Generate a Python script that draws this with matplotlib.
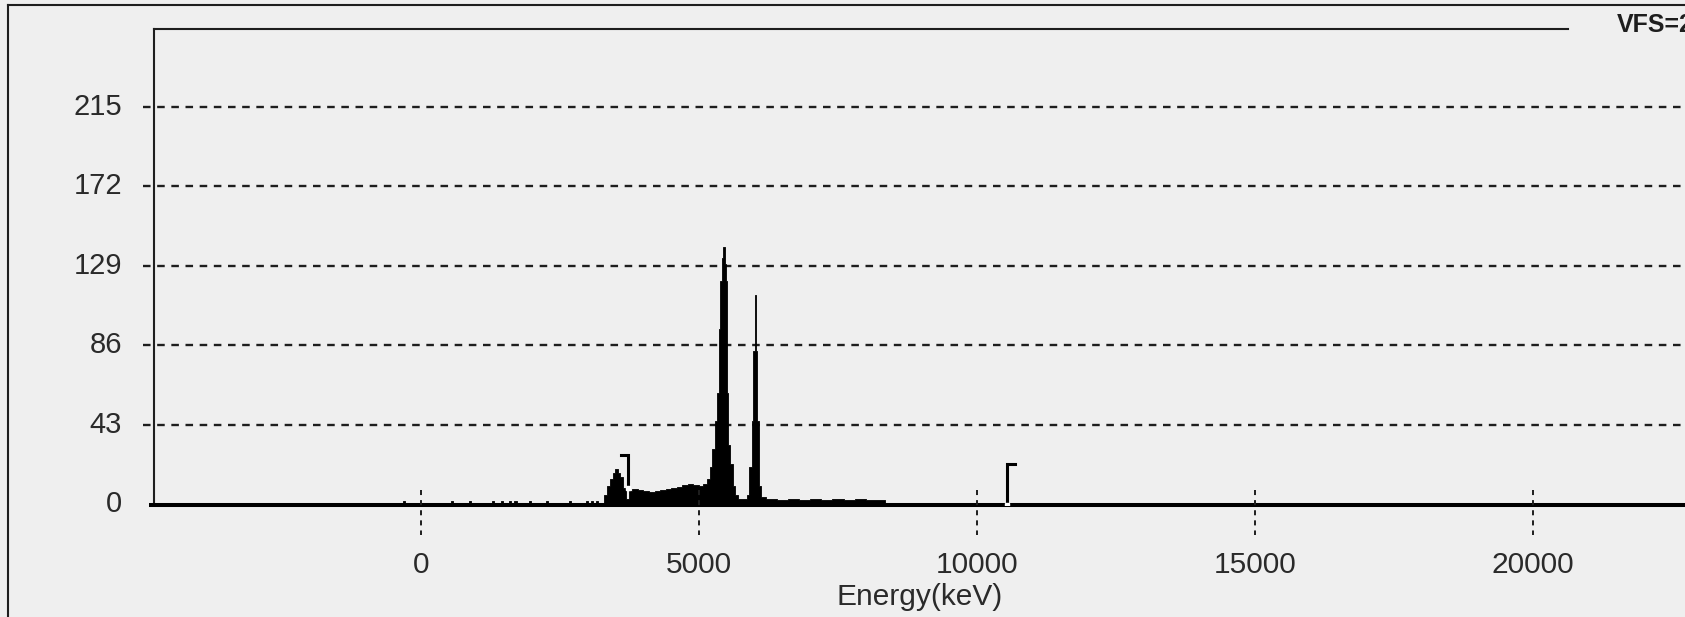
import matplotlib.pyplot as plt
from matplotlib.lines import Line2D

plt.rcParams["font.family"] = ["Liberation Sans", "DejaVu Sans"]

# spectrum (channel start energy in keV, counts), drawn as steps
energy_kev = [-420, -330, -290, 540, 580, 860, 900, 1280, 1320, 1440, 1480,
              1580, 1620, 1680, 1720, 1940, 1980, 2250, 2290, 2660, 2700,
              2960, 3000, 3060, 3100, 3150, 3190, 3300,
              3350, 3400, 3450, 3490, 3540, 3580, 3630, 3690, 3750,
              3800, 3900, 4000, 4100, 4200, 4300, 4400, 4500, 4600, 4700, 4800,
              4900, 5000, 5080, 5140, 5190, 5230, 5280, 5320, 5360, 5380, 5410,
              5430, 5460, 5480, 5500, 5525, 5560, 5610, 5650, 5700, 5800,
              5870, 5900, 5950, 5980, 6000, 6020, 6045, 6085, 6110,
              6200, 6400, 6600, 6800, 7000, 7200, 7400, 7600, 7800, 8000,
              8200, 8350]
counts = [0, 1.8, 0, 1.8, 0, 1.8, 0, 1.8, 0, 1.8, 0,
          1.8, 0, 1.8, 0, 1.8, 0, 1.8, 0, 1.8, 0,
          1.8, 0, 1.8, 0, 1.8, 0, 5,
          10, 14, 17, 19, 17, 15, 9, 3, 7.5,
          8.5, 8, 7.5, 7, 7.5, 8, 8.5, 9, 9.5, 10.5, 11,
          10.5, 10, 11, 14, 20, 30, 45, 60, 95, 121, 133,
          139, 130, 121, 60, 32, 22, 10, 5, 3, 3,
          5, 20, 45, 83, 113, 83, 45, 10, 4,
          3, 2.5, 3, 2.5, 3, 2.5, 3, 2.5, 3, 2.5,
          2.5, 0]

# ROI markers
marker_kev = [3729, 10545]
marker_top = [27, 22]
marker_base = [9, 0]
marker_flag = [-140, 140]

y_ticks = [0, 43, 86, 129, 172, 215]
x_ticks = [0, 5000, 10000, 15000, 20000]
x_min, x_max = -4802, 22734
y_max = 257

W, H = 1685, 617
paper = "#efefef"
ink = "#1e1e1e"

fig = plt.figure(figsize=(W / 100, H / 100), dpi=100, facecolor=paper)
ax_left, ax_top, ax_bot = 154, 29, 504.5
ax = fig.add_axes([ax_left / W, (H - ax_bot) / H, (W - ax_left) / W, (ax_bot - ax_top) / H])
ax.set_facecolor(paper)
ax.set_xlim(x_min, x_max)
ax.set_ylim(0, y_max)
for s in ["top", "right", "bottom"]:
    ax.spines[s].set_visible(False)
ax.spines["left"].set_linewidth(1.5)
ax.spines["left"].set_color(ink)
ax.set_xticks([])
ax.set_yticks([])

ax_h = ax_bot - ax_top
ax_w = W - ax_left


def yfrac(px):
    # pixel row (from top) to axes fraction
    return (ax_bot - px) / ax_h


# dashed grid with little outward stub
ytr = ax.get_yaxis_transform()
for y in y_ticks[1:]:
    ax.plot([-11 / ax_w, 1], [y, y], transform=ytr, color=ink, lw=1.7,
            linestyle=(0, (3.2, 2.8)), clip_on=False, zorder=1)
for y in y_ticks:
    ax.text(-32 / ax_w, y, str(y), transform=ytr, ha="right", va="center",
            fontsize=21, color="#2a2a2a")

# spectrum
ax.fill_between(energy_kev, counts, step="post", facecolor="black",
                edgecolor="black", lw=0.6, zorder=3)
ax.plot([-5 / ax_w, 1], [0, 0], transform=ytr, color="black", lw=2.9,
        clip_on=False, zorder=4, solid_capstyle="butt")

# x ticks as short dashed lines crossing the baseline
xtr = ax.get_xaxis_transform()
for x in x_ticks:
    ax.plot([x, x], [yfrac(490), yfrac(535)], transform=xtr, color=ink, lw=1.4,
            linestyle=(0, (2.6, 2.6)), clip_on=False, zorder=5)
    ax.text(x, yfrac(565), str(x), transform=xtr, ha="center", va="center",
            fontsize=21.5, color="#2a2a2a")
ax.text(0.5, yfrac(597), "Energy(keV)", transform=ax.transAxes, ha="center",
        va="center", fontsize=21.5, color="#2a2a2a")

# ROI markers
for xk, top, base, flag in zip(marker_kev, marker_top, marker_base, marker_flag):
    ax.plot([xk + flag, xk, xk], [top, top, base], color="black", lw=2.2,
            zorder=6, solid_joinstyle="miter")
    ax.plot([xk], [base], marker="s", ms=3.5, mfc="white", mec="white", zorder=7)

# frames
fig.add_artist(Line2D([8 / W, 1], [1 - 5 / H, 1 - 5 / H], color=ink, lw=1.5))
fig.add_artist(Line2D([8 / W, 8 / W], [1 - 5 / H, 0], color=ink, lw=1.5))
fig.add_artist(Line2D([ax_left / W, 1568 / W], [1 - ax_top / H, 1 - ax_top / H],
                      color=ink, lw=1.5))
# the scan is cropped through this label, as in the original
fig.text(1617 / W, 1 - 25 / H, "VFS=258", ha="left", va="center", fontsize=18,
         fontweight="bold", color=ink)

fig.savefig("out.png", dpi=100, facecolor=paper)
